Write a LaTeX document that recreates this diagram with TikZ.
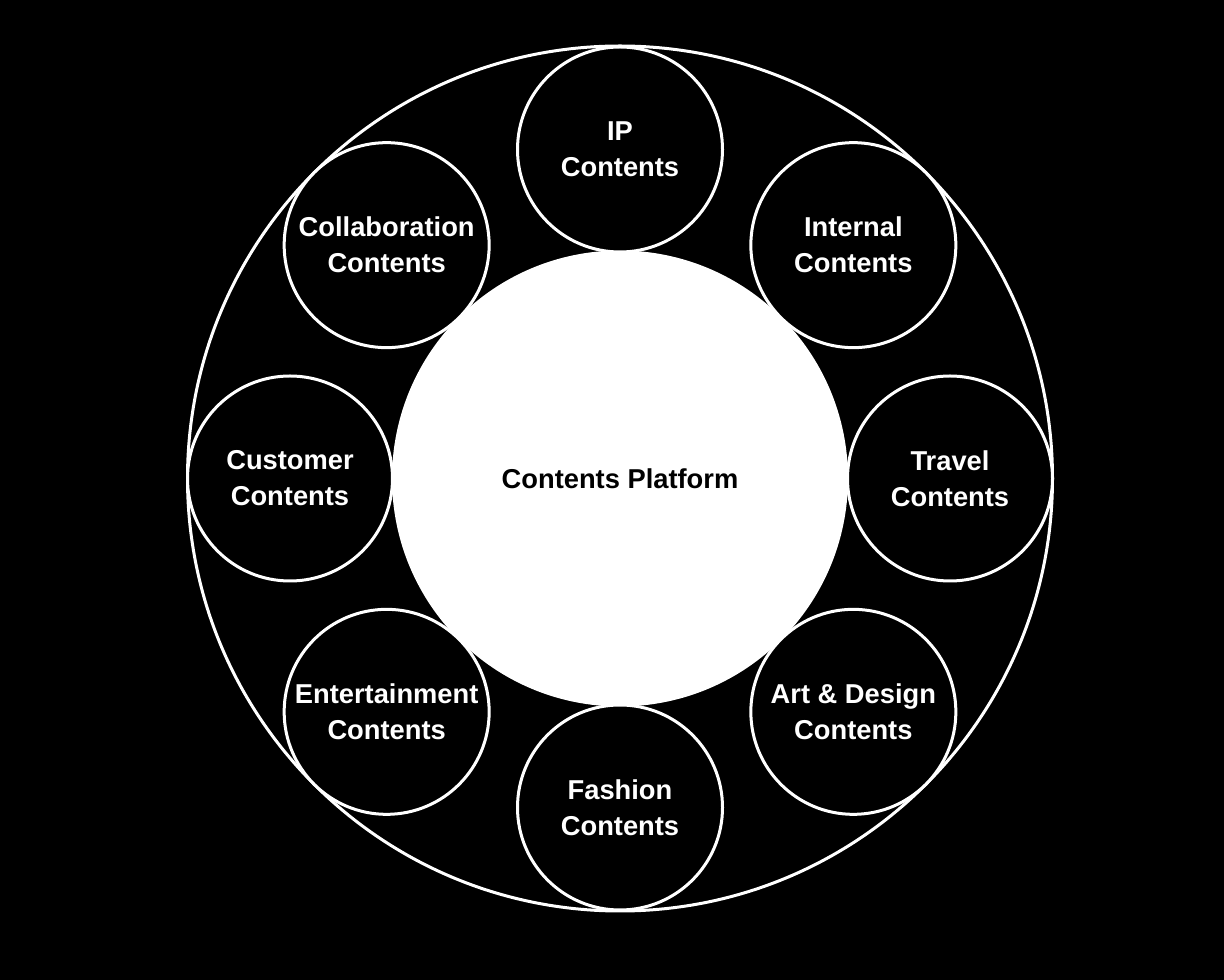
\documentclass[tikz,border=0pt]{standalone}
\usepackage{fontspec}
\setmainfont{Liberation Sans}
\usetikzlibrary{positioning, calc}

\begin{document}
\begin{tikzpicture} [x = 1pt, y = 1pt,
  every node/.style = {font = \fontsize{27.3}{36}\selectfont\bfseries, align = center},
  topic/.style = {circle, draw = white, fill = black, line width = 3pt, text = white, minimum size = 205pt, inner sep = 0pt},
  core/.style = {circle, fill = white, text = black, minimum size = 456pt, inner sep = 0pt}]
\fill[black] (0,0) rectangle (1224,980);
\useasboundingbox (0,0) rectangle (1224,980);
\coordinate (o) at (620,501.5);
\draw[white, line width = 3pt] (o) circle (432.5);
\node[core] (platform) at (o) {Contents Platform};
\node[topic] (ip) at ($(o)+(90:329)$) {IP\\Contents};
\node[topic] (internal) at ($(o)+(45:330)$) {Internal\\Contents};
\node[topic] (travel) at ($(o)+(0:330)$) {Travel\\Contents};
\node[topic] (art) at ($(o)+(-45:330)$) {Art \& Design\\Contents};
\node[topic] (fashion) at ($(o)+(-90:329)$) {Fashion\\Contents};
\node[topic] (entertain) at ($(o)+(-135:330)$) {Entertainment\\Contents};
\node[topic] (customer) at ($(o)+(180:330)$) {Customer\\Contents};
\node[topic] (collab) at ($(o)+(135:330)$) {Collaboration\\Contents};
\end{tikzpicture}
\end{document}
